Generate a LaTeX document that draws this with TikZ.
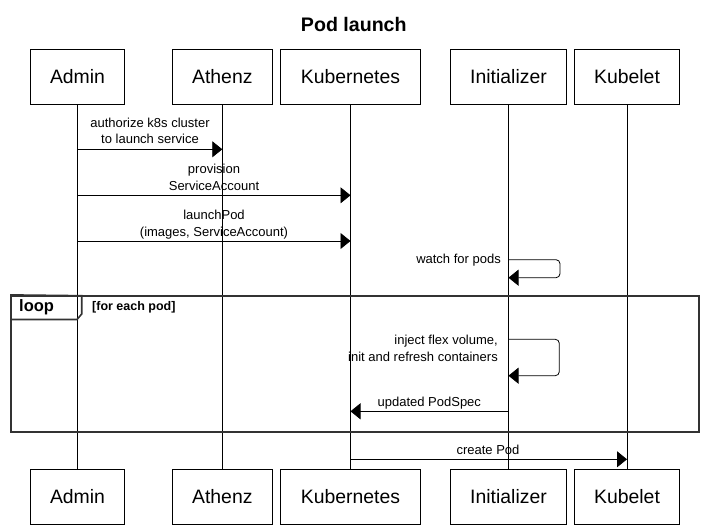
\documentclass[tikz,border=0pt]{standalone}
\usepackage{fontspec}
\setmainfont{Liberation Sans}
\usetikzlibrary{arrows.meta}
\begin{document}
\begin{tikzpicture}[x=1pt,y=-1pt,
  actor/.style={draw=black,line width=0.8pt,minimum height=55pt,inner sep=0pt,
    font=\fontsize{19.4}{22}\selectfont,text height=14pt,text depth=0pt},
  life/.style={line width=0.8pt},
  msg/.style={line width=0.8pt,-{Triangle[length=10pt,width=16pt]}},
  lbl/.style={font=\fontsize{13}{17}\selectfont,inner sep=0pt,anchor=base,align=center},
  rlbl/.style={font=\fontsize{13}{17}\selectfont,inner sep=0pt,anchor=base east,align=right},
  frame/.style={draw=black!80,line width=1.6pt}]
\useasboundingbox (0,0) rectangle (707,532);
% title
\node[font=\bfseries\fontsize{19.6}{22}\selectfont,anchor=base,inner sep=0pt] (title) at (353.8,31.7) {Pod launch};
% actors top
\node[actor,minimum width=94.4pt] (admT) at (77.5,76.8) {Admin};
\node[actor,minimum width=100pt] (athT) at (222.3,76.8) {Athenz};
\node[actor,minimum width=140.4pt] (kubT) at (350.5,76.8) {Kubernetes};
\node[actor,minimum width=116.4pt] (iniT) at (508.5,76.8) {Initializer};
\node[actor,minimum width=105.4pt] (kltT) at (627,76.8) {Kubelet};
% actors bottom
\node[actor,minimum width=94.4pt] (admB) at (77.5,496.8) {Admin};
\node[actor,minimum width=100pt] (athB) at (222.3,496.8) {Athenz};
\node[actor,minimum width=140.4pt] (kubB) at (350.5,496.8) {Kubernetes};
\node[actor,minimum width=116.4pt] (iniB) at (508.5,496.8) {Initializer};
\node[actor,minimum width=105.4pt] (kltB) at (627,496.8) {Kubelet};
% lifelines
\draw[life] (admT.south) -- (admB.north);
\draw[life] (athT.south) -- (athB.north);
\draw[life] (kubT.south) -- (kubB.north);
\draw[life] (iniT.south) -- (iniB.north);
\draw[life] (kltT.south) -- (kltB.north);
% message rows
\coordinate (r1) at (0,149.3);
\coordinate (r2) at (0,195.3);
\coordinate (r3) at (0,241);
\coordinate (r4a) at (0,259.7);
\coordinate (r4b) at (0,277.7);
\coordinate (r5a) at (0,339.3);
\coordinate (r5b) at (0,375.7);
\coordinate (r6) at (0,411.3);
\coordinate (r7) at (0,459.3);
% messages
\draw[msg] (admT.south |- r1) -- (athT.south |- r1);
\node[lbl] (l1) at (150,144) {authorize k8s cluster\\to launch service};
\draw[msg] (admT.south |- r2) -- (kubT.south |- r2);
\node[lbl] (l2) at (214,190.7) {provision\\ServiceAccount};
\draw[msg] (admT.south |- r3) -- (kubT.south |- r3);
\node[lbl] (l3) at (214,236) {launchPod\\(images, ServiceAccount)};
\draw[msg,rounded corners=4pt] (iniT.south |- r4a) -- (560,259.7) -- (560,277.7) -- (iniT.south |- r4b);
\node[rlbl] (l4) at (501,263.3) {watch for pods};
% loop frame
\node[frame,draw,minimum width=688pt,minimum height=136pt,inner sep=0pt] (loopF) at (355,363.7) {};
\draw[frame] (loopF.north west) -- (81.7,295.7) -- (81.7,314) -- (77,319.5) -- (11,319.5);
\node[font=\bfseries\fontsize{16.5}{18}\selectfont,anchor=base west,inner sep=0pt] (loopL) at (19,311.7) {loop};
\node[font=\bfseries\fontsize{12.5}{14}\selectfont,anchor=base west,inner sep=0pt] (loopC) at (92,310) {[for each pod]};
% inside loop
\draw[msg,rounded corners=4pt] (iniT.south |- r5a) -- (559.3,339.3) -- (559.3,375.7) -- (iniT.south |- r5b);
\node[rlbl] (l5) at (498,361) {inject flex volume,\\init and refresh containers};
\draw[msg] (iniT.south |- r6) -- (kubT.south |- r6);
\node[lbl] (l6) at (429.3,406.7) {updated PodSpec};
% after loop
\draw[msg] (kubT.south |- r7) -- (kltT.south |- r7);
\node[lbl] (l7) at (488,454) {create Pod};
\end{tikzpicture}
\end{document}
